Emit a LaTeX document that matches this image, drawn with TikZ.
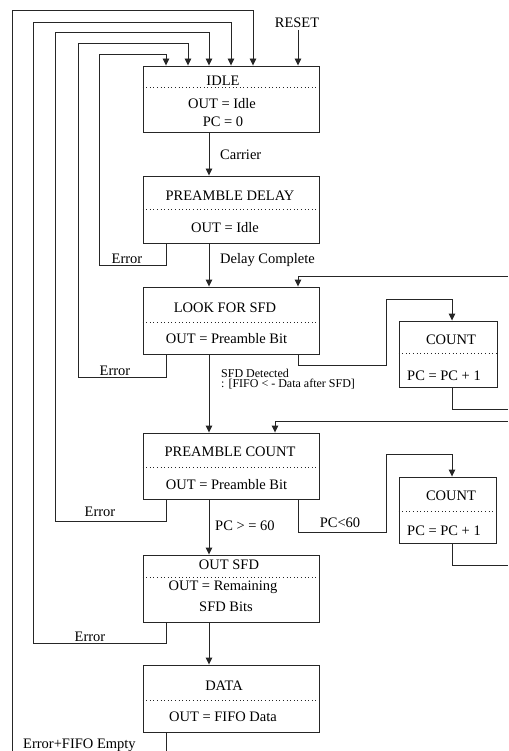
\documentclass[tikz,border=0pt]{standalone}
\usepackage{fontspec}
\setmainfont{Liberation Serif}
\usetikzlibrary{arrows.meta}
\begin{document}
\begin{tikzpicture}[x=1pt,y=-1pt,
  ln/.style={draw=black!85,line width=0.9pt},
  arr/.style={ln,-{Triangle[length=7pt,width=6.5pt]}},
  state/.style={ln,rectangle,inner sep=0pt},
  sep/.style={draw=black!85,line width=0.8pt,dash pattern=on 1pt off 2.6pt},
  txt/.style={inner sep=0pt,font=\fontsize{14.5}{17}\selectfont},
  small/.style={inner sep=0pt,font=\fontsize{12}{14}\selectfont}]
\useasboundingbox (0,0) rectangle (508,751);
% column coordinates
\coordinate (xa) at (12,0);
\coordinate (xb) at (33,0);
\coordinate (xc) at (55,0);
\coordinate (xd) at (78,0);
\coordinate (xe) at (99,0);
\coordinate (xerr) at (166,0);
\coordinate (x188) at (188,0);
\coordinate (x209) at (209,0);
\coordinate (x231) at (231,0);
\coordinate (x253) at (253,0);
\coordinate (x275) at (275,0);
\coordinate (xr) at (298,0);
\coordinate (xm) at (386,0);
\coordinate (xk) at (452,0);
% states
\node[state,minimum width=176pt,minimum height=66pt] (idle) at (231,99) {};
\node[state,minimum width=176pt,minimum height=67pt] (pd) at (231,209.5) {};
\node[state,minimum width=176pt,minimum height=67pt] (lfs) at (231,320.5) {};
\node[state,minimum width=176pt,minimum height=66pt] (pc) at (231,466) {};
\node[state,minimum width=176pt,minimum height=67pt] (osfd) at (231,588.5) {};
\node[state,minimum width=176pt,minimum height=67pt] (data) at (231,698.5) {};
\node[state,minimum width=98pt,minimum height=66pt] (cnta) at (448,354) {};
\node[state,minimum width=97pt,minimum height=66pt] (cntb) at (447.5,510) {};
% separators
\draw[sep] (idle.west |- 0,87) -- (idle.east |- 0,87);
\draw[sep] (pd.west |- 0,209) -- (pd.east |- 0,209);
\draw[sep] (lfs.west |- 0,322) -- (lfs.east |- 0,322);
\draw[sep] (pc.west |- 0,467) -- (pc.east |- 0,467);
\draw[sep] (osfd.west |- 0,577) -- (osfd.east |- 0,577);
\draw[sep] (data.west |- 0,700) -- (data.east |- 0,700);
\draw[sep] (cnta.west |- 0,353) -- (cnta.east |- 0,353);
\draw[sep] (cntb.west |- 0,511) -- (cntb.east |- 0,511);
% state texts
\node[txt] (idle1) at (223,81) {IDLE};
\node[txt] (idle2) at (222,104) {OUT = Idle};
\node[txt] (idle3) at (223,122) {PC = 0};
\node[txt] (pd1) at (230,196) {PREAMBLE DELAY};
\node[txt] (pd2) at (225,228) {OUT = Idle};
\node[txt] (lfs1) at (225,308) {LOOK FOR SFD};
\node[txt] (lfs2) at (226.5,339) {OUT = Preamble Bit};
\node[txt] (pc1) at (230,452) {PREAMBLE COUNT};
\node[txt] (pc2) at (226.5,485) {OUT = Preamble Bit};
\node[txt] (os1) at (229,565) {OUT SFD};
\node[txt] (os2) at (223,587) {OUT = Remaining};
\node[txt] (os3) at (226,607) {SFD Bits};
\node[txt] (dt1) at (224,686) {DATA};
\node[txt] (dt2) at (223,717) {OUT = FIFO Data};
\node[txt] (ca1) at (451,340) {COUNT};
\node[txt] (ca2) at (444,376) {PC = PC + 1};
\node[txt] (cb1) at (451,496) {COUNT};
\node[txt] (cb2) at (444,531) {PC = PC + 1};
% labels
\node[txt] (reset) at (297,23) {RESET};
\node[txt,anchor=west] (carrier) at (220,155) {Carrier};
\node[txt,anchor=west] (dcomp) at (220,260) {Delay Complete};
\node[txt,anchor=base] (err1) at (127,263.5) {Error};
\node[txt,anchor=base] (err2) at (115,375) {Error};
\node[txt,anchor=base] (err3) at (100,516) {Error};
\node[txt,anchor=base] (err4) at (90,641) {Error};
\node[small,anchor=base west] (sfd1) at (221,377) {SFD Detected};
\node[small,anchor=base west] (sfd2) at (221,387.5) {: [FIFO < - Data after SFD]};
\node[txt,anchor=west] (ge60) at (215,526) {PC > = 60};
\node[txt,anchor=base] (lt60) at (340,527) {PC<60};
\node[txt,anchor=base west] (efe) at (23,748) {Error+FIFO Empty};
% free ends
\coordinate (rst) at (298,30);
\coordinate (bota) at (12,751);
\coordinate (botd) at (166,751);
\coordinate (r1) at (508,276);
\coordinate (r2) at (508,409);
\coordinate (r3) at (508,421);
\coordinate (r4) at (508,565);
% main flow
\draw[arr] (rst) -- (idle.north -| xr);
\draw[arr] (idle.south -| x209) -- (pd.north -| x209);
\draw[arr] (pd.south -| x209) -- (lfs.north -| x209);
\draw[arr] (lfs.south -| x209) -- (pc.north -| x209);
\draw[arr] (pc.south -| x209) -- (osfd.north -| x209);
\draw[arr] (osfd.south -| x209) -- (data.north -| x209);
% error loops back to IDLE
\draw[arr] (bota) |- (253,10) -- (idle.north -| x253);
\draw[arr] (osfd.south -| xerr) |- (33,643) |- (231,22) -- (idle.north -| x231);
\draw[arr] (pc.south -| xerr) |- (55,521) |- (209,32) -- (idle.north -| x209);
\draw[arr] (lfs.south -| xerr) |- (78,377) |- (188,43) -- (idle.north -| x188);
\draw[arr] (pd.south -| xerr) |- (99,265) |- (166,54) -- (idle.north -| xerr);
\draw[ln] (data.south -| xerr) -- (botd);
% count loops
\draw[arr] (r1) -| (lfs.north -| xr);
\draw[arr] (lfs.south -| xr) |- (386,365) |- (452,299) -- (cnta.north -| xk);
\draw[ln] (cnta.south -| xk) |- (r2);
\draw[arr] (r3) -| (pc.north -| x275);
\draw[arr] (pc.south -| xr) |- (386,532) |- (452,454) -- (cntb.north -| xk);
\draw[ln] (cntb.south -| xk) |- (r4);
\end{tikzpicture}
\end{document}
